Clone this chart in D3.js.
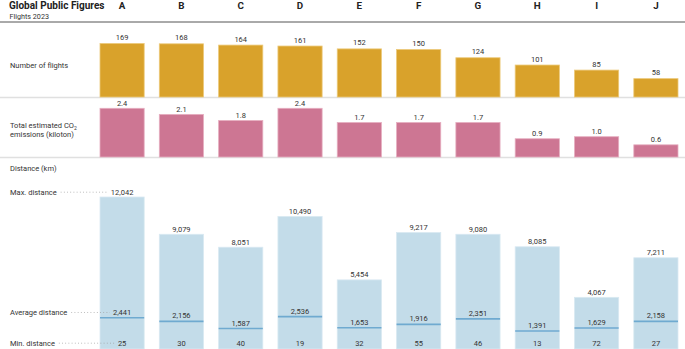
<!DOCTYPE html>
<html>
<head>
<meta charset="utf-8">
<script src="https://cdn.jsdelivr.net/npm/d3@7"></script>
<style>
  html, body { margin: 0; padding: 0; background: #fff; }
  svg { display: block; font-family: Roboto, "DejaVu Sans", sans-serif; }
</style>
</head>
<body>
<script>
const people = ["A","B","C","D","E","F","G","H","I","J"];
const flights = [169,168,164,161,152,150,124,101,85,58];
const co2 = [2.4,2.1,1.8,2.4,1.7,1.7,1.7,0.9,1.0,0.6];
const maxDist = [12042,9079,8051,10490,5454,9217,9080,8085,4067,7211];
const avgDist = [2441,2156,1587,2536,1653,1916,2351,1391,1629,2158];
const minDist = [25,30,40,19,32,55,46,13,72,27];

const W = 685, H = 349;
const svg = d3.select("body").append("svg").attr("width", W).attr("height", H);

const x = d3.scaleBand().domain(people).range([100, 678]).paddingInner(0.255).paddingOuter(0);
const yF = d3.scaleLinear().domain([0, 169]).range([97, 43.5]);
const yC = d3.scaleLinear().domain([0, 2.4]).range([157, 108.3]);
const yD = d3.scaleLinear().domain([0, 12042]).range([348.5, 197]);

const textCol = "#333";
const fmt = d3.format(",");
const FS = 7.5;

// header
svg.append("text").attr("x", 9).attr("y", 9).attr("font-size", 10).attr("font-weight", 700)
  .attr("fill", "#222").text("Global Public Figures");
svg.append("text").attr("x", 9.5).attr("y", 18.5).attr("font-size", 7.2)
  .attr("fill", textCol).text("Flights 2023");
svg.selectAll("text.col").data(people).join("text").attr("class", "col")
  .attr("x", d => x(d) + x.bandwidth() / 2).attr("y", 9)
  .attr("text-anchor", "middle").attr("font-size", 9.8).attr("font-weight", 700)
  .attr("fill", "#222").text(d => d);
svg.append("line").attr("x1", 0).attr("x2", W).attr("y1", 22).attr("y2", 22)
  .attr("stroke", "#555").attr("stroke-width", 1);

// panel labels
const lab = (t, xx, yy) => svg.append("text").attr("x", xx).attr("y", yy)
  .attr("font-size", FS).attr("fill", textCol).text(t);
lab("Number of flights", 10, 68);
const co2Lab = svg.append("text").attr("x", 10).attr("y", 128).attr("font-size", FS).attr("fill", textCol);
co2Lab.append("tspan").text("Total estimated CO");
co2Lab.append("tspan").attr("font-size", 5).attr("dy", 1.5).text("2");
svg.append("text").attr("x", 10).attr("y", 137).attr("font-size", FS).attr("fill", textCol).text("emissions (kiloton)");
lab("Distance (km)", 10, 171);

// flights panel
svg.append("line").attr("x1", 0).attr("x2", W).attr("y1", 97.5).attr("y2", 97.5)
  .attr("stroke", "#e0e0e0").attr("stroke-width", 1.5);
svg.selectAll("rect.fl").data(people).join("rect").attr("class", "fl")
  .attr("x", d => x(d)).attr("width", x.bandwidth())
  .attr("y", (d, i) => yF(flights[i])).attr("height", (d, i) => yF(0) - yF(flights[i]))
  .attr("fill", "#d9a22b").attr("stroke", "#ecc979").attr("stroke-width", 0.8);
svg.selectAll("text.fl").data(people).join("text").attr("class", "fl")
  .attr("x", d => x(d) + x.bandwidth() / 2).attr("y", (d, i) => yF(flights[i]) - 3.5)
  .attr("text-anchor", "middle").attr("font-size", FS).attr("fill", textCol)
  .text((d, i) => flights[i]);

// co2 panel
svg.append("line").attr("x1", 0).attr("x2", W).attr("y1", 157.5).attr("y2", 157.5)
  .attr("stroke", "#e0e0e0").attr("stroke-width", 1.5);
svg.selectAll("rect.co").data(people).join("rect").attr("class", "co")
  .attr("x", d => x(d)).attr("width", x.bandwidth())
  .attr("y", (d, i) => yC(co2[i])).attr("height", (d, i) => yC(0) - yC(co2[i]))
  .attr("fill", "#cd7693").attr("stroke", "#e6aec0").attr("stroke-width", 0.8);
svg.selectAll("text.co").data(people).join("text").attr("class", "co")
  .attr("x", d => x(d) + x.bandwidth() / 2).attr("y", (d, i) => yC(co2[i]) - 2.5)
  .attr("text-anchor", "middle").attr("font-size", FS).attr("fill", textCol)
  .text((d, i) => d3.format(".1f")(co2[i]));

// distance panel
svg.selectAll("rect.di").data(people).join("rect").attr("class", "di")
  .attr("x", d => x(d)).attr("width", x.bandwidth())
  .attr("y", (d, i) => yD(maxDist[i])).attr("height", (d, i) => H - yD(maxDist[i]))
  .attr("fill", "#c3dce9").attr("stroke", "#d9e9f2").attr("stroke-width", 0.8);
svg.selectAll("line.avg").data(people).join("line").attr("class", "avg")
  .attr("x1", d => x(d)).attr("x2", d => x(d) + x.bandwidth())
  .attr("y1", (d, i) => yD(avgDist[i])).attr("y2", (d, i) => yD(avgDist[i]))
  .attr("stroke", "#6faad0").attr("stroke-width", 1.6);
const maxT = svg.selectAll("text.mx").data(people).join("text").attr("class", "mx")
  .attr("x", d => x(d) + x.bandwidth() / 2).attr("y", (d, i) => yD(maxDist[i]) - 2.5)
  .attr("text-anchor", "middle").attr("font-size", FS).attr("fill", textCol)
  .text((d, i) => fmt(maxDist[i]));
const avgT = svg.selectAll("text.av").data(people).join("text").attr("class", "av")
  .attr("x", d => x(d) + x.bandwidth() / 2).attr("y", (d, i) => yD(avgDist[i]) - 3)
  .attr("text-anchor", "middle").attr("font-size", FS).attr("fill", textCol)
  .text((d, i) => fmt(avgDist[i]));
const minT = svg.selectAll("text.mn").data(people).join("text").attr("class", "mn")
  .attr("x", d => x(d) + x.bandwidth() / 2).attr("y", 345.5)
  .attr("text-anchor", "middle").attr("font-size", FS).attr("fill", textCol)
  .text((d, i) => minDist[i]);

// row labels with dotted leaders to first column's label
function leader(label, yy, textSel) {
  const t = svg.append("text").attr("x", 10).attr("y", yy).attr("font-size", FS)
    .attr("fill", textCol).text(label);
  const x1 = t.node().getBBox().x + t.node().getBBox().width + 4;
  const bb = textSel.nodes()[0].getBBox();
  const x2 = bb.x - 3;
  svg.append("line").attr("x1", x1).attr("x2", x2)
    .attr("y1", yy - 2.3).attr("y2", yy - 2.3)
    .attr("stroke", "#9a9a9a").attr("stroke-width", 0.8).attr("stroke-dasharray", "0.8,2.4");
}
leader("Max. distance", yD(maxDist[0]) - 2.5, maxT);
leader("Average distance", yD(avgDist[0]) - 3, avgT);
leader("Min. distance", 345.5, minT);
</script>
</body>
</html>
